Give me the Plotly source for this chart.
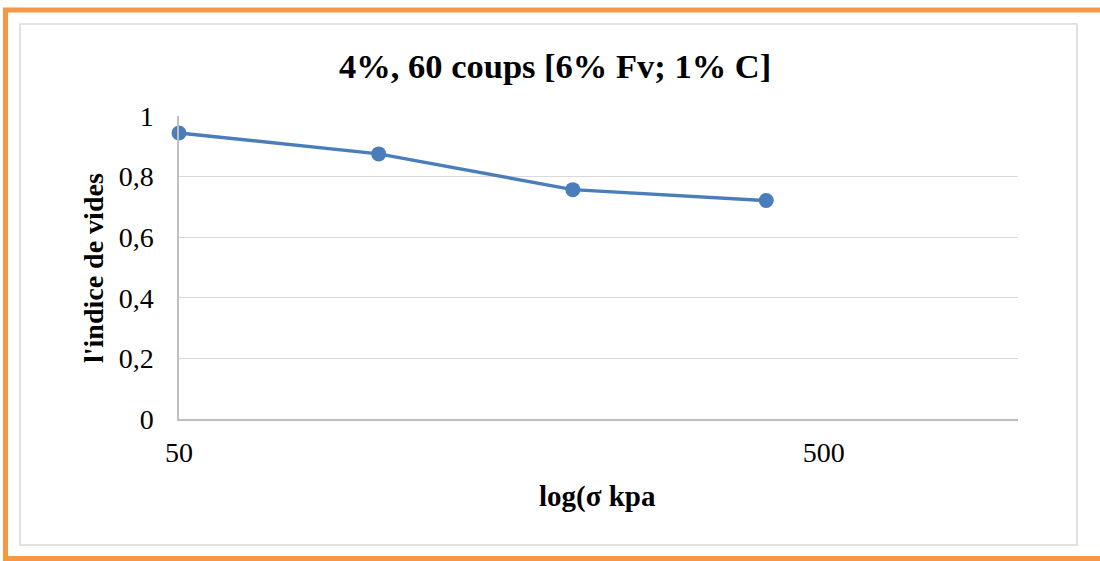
import plotly.graph_objects as go

# Oedometer data: applied stress (kPa) and void ratio
stress_kpa = [50, 102, 204, 407]
void_ratio = [0.944, 0.875, 0.757, 0.721]

y_ticks = [0, 0.2, 0.4, 0.6, 0.8, 1]
y_tick_text = ["0", "0,2", "0,4", "0,6", "0,8", "1"]
x_ticks = [50, 500]
x_tick_text = ["50", "500"]

title_text = "4%, 60 coups [6% Fv; 1% C]"
x_title = "log(σ kpa"
y_title = "l'indice de vides"

W, H = 1100, 561
L, R, T, B = 179, 1018, 116, 419  # plot area in pixels


def px(x):
    return (x - L) / (R - L)


def py(y):
    return (B - y) / (B - T)


FONT = "Liberation Serif, Times New Roman, serif"
BLUE = "#4a7ebb"
ORANGE = "#f79646"

fig = go.Figure()
fig.add_trace(go.Scatter(
    x=stress_kpa, y=void_ratio, mode="lines+markers",
    line=dict(color=BLUE, width=3.5),
    marker=dict(color=BLUE, size=15),
    cliponaxis=False, showlegend=False,
))

shapes = [
    # outer frame of the chart area
    dict(type="rect", xref="paper", yref="paper",
         x0=px(20), x1=px(1077), y0=py(24), y1=py(545),
         line=dict(color="#d9d9d9", width=1.5), fillcolor="rgba(0,0,0,0)", layer="below"),
    # orange page border
    dict(type="line", xref="paper", yref="paper",
         x0=px(3), x1=px(1100), y0=py(10), y1=py(10),
         line=dict(color=ORANGE, width=5)),
    dict(type="line", xref="paper", yref="paper",
         x0=px(5.5), x1=px(5.5), y0=py(8), y1=py(561),
         line=dict(color=ORANGE, width=5)),
    dict(type="line", xref="paper", yref="paper",
         x0=px(3), x1=px(1100), y0=py(558.5), y1=py(558.5),
         line=dict(color=ORANGE, width=5)),
]

annotations = [
    dict(text=f"<b>{title_text}</b>", xref="paper", yref="paper",
         x=px(555), y=py(66), showarrow=False,
         font=dict(family=FONT, size=34.5, color="#000000"),
         xanchor="center", yanchor="middle"),
    dict(text=f"<b>{x_title}</b>", xref="paper", yref="paper",
         x=px(597), y=py(496), showarrow=False,
         font=dict(family=FONT, size=29, color="#000000"),
         xanchor="center", yanchor="middle"),
    dict(text=f"<b>{y_title}</b>", xref="paper", yref="paper",
         x=px(93), y=py(268), showarrow=False, textangle=-90,
         font=dict(family=FONT, size=28, color="#000000"),
         xanchor="center", yanchor="middle"),
]

fig.update_layout(
    width=W, height=H,
    margin=dict(l=L, r=W - R, t=T, b=H - B),
    paper_bgcolor="white", plot_bgcolor="white",
    shapes=shapes, annotations=annotations,
    xaxis=dict(
        type="log", range=[1.69897, 3.0],
        tickvals=x_ticks, ticktext=x_tick_text,
        showgrid=False, zeroline=False,
        showline=True, linecolor="#bfbfbf", linewidth=1.5,
        ticks="", ticklabelstandoff=8,
        tickfont=dict(family=FONT, size=28, color="#000000"),
    ),
    yaxis=dict(
        range=[0, 1],
        tickvals=y_ticks, ticktext=y_tick_text,
        showgrid=True, gridcolor="#d9d9d9", gridwidth=1,
        zeroline=False,
        showline=True, linecolor="#bfbfbf", linewidth=1.5,
        ticks="", ticklabelstandoff=18,
        tickfont=dict(family=FONT, size=28, color="#000000"),
    ),
)

fig.write_html("out.html")
